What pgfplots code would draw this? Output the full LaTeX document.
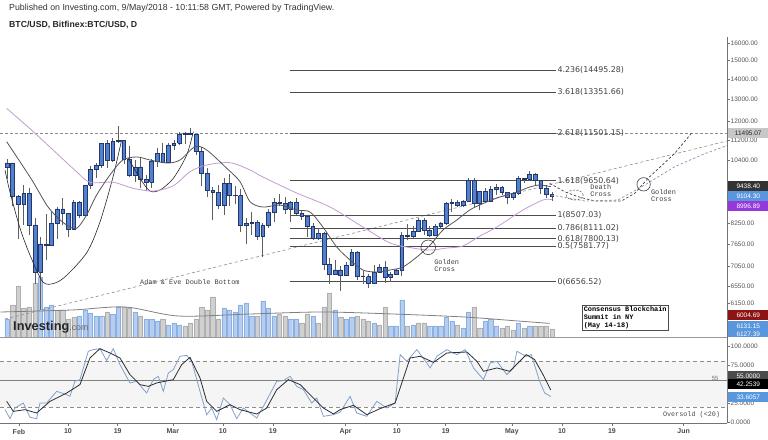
\documentclass[border=0pt]{standalone}
\usepackage{pgfplots}
\pgfplotsset{compat=1.18}
\usepackage{pgfplotstable}
\usepackage{fontspec}
\setmainfont{Liberation Sans}
\setsansfont{Liberation Sans}
\setmonofont{Liberation Mono}
\newfontfamily\dejavu{DejaVu Sans}
\newcommand\fs[1]{\fontsize{#1}{#1}\selectfont}
\definecolor{candlefill}{RGB}{80,128,206}
\definecolor{candleedge}{RGB}{35,55,110}
\definecolor{wickc}{RGB}{95,95,95}
\definecolor{volup}{RGB}{180,205,240}
\definecolor{volupe}{RGB}{140,175,225}
\definecolor{voldn}{RGB}{208,208,208}
\definecolor{voldne}{RGB}{175,175,175}
\definecolor{mafast}{RGB}{85,85,85}
\definecolor{maslow}{RGB}{195,155,210}
\definecolor{stk}{RGB}{130,160,205}
\definecolor{std}{RGB}{45,45,45}
\definecolor{labg}{RGB}{85,85,85}
\definecolor{boxblue}{RGB}{88,150,222}
\definecolor{boxpurple}{RGB}{150,55,220}
\definecolor{boxred}{RGB}{140,20,20}

\pgfplotstableread{
d O H L C
-1 10150 10450 9700 10300
0 10300 10300 8800 9100
1 9100 9150 7800 8850
2 8850 9500 8200 9200
3 9200 9400 7900 8200
4 8200 8400 6600 6900
5 6900 7850 6000 7650
6 7650 8550 7200 7600
7 7600 8600 7600 8250
8 8250 8750 7800 8700
9 8700 9050 8200 8560
10 8560 8560 7850 8080
11 8080 8980 8080 8900
12 8900 8950 8400 8500
13 8500 9500 8500 9480
14 9480 10200 9350 10050
15 10050 10300 9750 10200
16 10200 11100 10100 11080
17 11080 11200 10100 10400
18 10400 11270 10350 11150
19 11150 11790 11100 11200
20 11200 11200 10250 10450
21 10450 10950 9780 9850
22 9850 10400 9600 10150
23 10150 10500 9400 9680
24 9680 9850 9300 9600
25 9600 10450 9400 10350
26 10350 10880 10150 10650
27 10650 11080 10300 10330
28 10330 11080 10300 11000
29 11000 11200 10800 11080
30 11080 11550 11000 11450
31 11450 11520 11050 11500
32 11500 11700 11400 11450
33 11450 11450 10600 10750
34 10750 10900 9450 9900
35 9900 10100 9100 9300
36 9300 9430 8350 9250
37 9250 9500 8700 8800
38 8800 9750 8500 9550
39 9550 9900 8800 9150
40 9150 9450 8850 9130
41 9130 9350 8000 8200
42 8200 8400 7650 8250
43 8250 8600 7900 8280
44 8280 8350 7750 7870
45 7870 8250 7300 8200
46 8200 8700 8100 8600
47 8600 9050 8300 8900
48 8900 9180 8780 8880
49 8880 9100 8550 8700
50 8700 8950 8300 8900
51 8900 9050 8500 8550
52 8550 8650 8350 8470
53 8470 8500 7850 8150
54 8150 8250 7750 7800
55 7800 8100 7750 7950
56 7950 7980 6950 7100
57 7100 7250 6600 6850
58 6850 7200 6850 6950
59 6950 7050 6430 6820
60 6820 7150 6820 7080
61 7080 7520 7050 7420
62 7420 7440 6700 6800
63 6800 6920 6600 6780
64 6780 6860 6500 6620
65 6620 7080 6600 6900
66 6900 7100 6900 7020
67 7020 7180 6630 6770
68 6770 6890 6650 6840
69 6840 6980 6820 6950
70 6950 8000 6800 7900
71 7900 8230 7750 7880
72 7880 8180 7830 8000
73 8000 8400 8000 8350
74 8350 8420 7900 8050
75 8050 8180 7850 7900
76 7900 8230 7880 8160
77 8160 8300 8100 8260
78 8260 8930 8200 8880
79 8880 9030 8600 8920
80 8920 9000 8760 8800
81 8800 9000 8750 8950
82 8950 9750 8920 9650
83 9650 9750 8750 8870
84 8870 9300 8650 9280
85 9280 9380 8950 8930
86 8930 9450 8930 9350
87 9350 9520 9150 9420
88 9420 9460 9150 9240
89 9240 9250 8850 9070
90 9070 9250 9000 9220
91 9220 9800 9170 9740
92 9740 9750 9550 9700
93 9700 9980 9700 9860
94 9860 9940 9460 9650
95 9650 9680 9200 9370
96 9370 9480 9050 9180
97 9180 9250 8970 9104
}\ohlc

\pgfplotstableread{
d Vu Vd
-1 18 nan
0 nan 32
1 nan 51
2 nan 29
3 nan 30
4 nan 54
5 60 nan
6 30 nan
7 32 nan
8 nan 27
9 nan 27
10 nan 18
11 nan 20
12 21 nan
13 27 nan
14 24 nan
15 21 nan
16 21 nan
17 nan 25
18 23 nan
19 30 nan
20 nan 30
21 nan 29
22 25 nan
23 nan 21
24 18 nan
25 18 nan
26 16 nan
27 nan 18
28 12 nan
29 14 nan
30 12 nan
31 nan 11
32 nan 14
33 nan 18
34 nan 30
35 nan 27
36 nan 40
37 nan 18
38 29 nan
39 27 nan
40 25 nan
41 32 nan
42 34 nan
43 21 nan
44 nan 21
45 36 nan
46 29 nan
47 21 nan
48 nan 23
49 nan 21
50 18 nan
51 18 nan
52 nan 14
53 nan 23
54 21 nan
55 nan 14
56 nan 30
57 nan 44
58 27 nan
59 nan 20
60 18 nan
61 20 nan
62 nan 21
63 nan 18
64 nan 16
65 14 nan
66 nan 12
67 nan 30
68 11 nan
69 11 nan
70 37 nan
71 nan 11
72 12 nan
73 nan 14
74 nan 14
75 11 nan
76 11 nan
77 11 nan
78 20 nan
79 16 nan
80 nan 12
81 9 nan
82 25 nan
83 nan 30
84 nan 9
85 16 nan
86 18 nan
87 11 nan
88 nan 9
89 nan 11
90 nan 7
91 14 nan
92 nan 9
93 11 nan
94 nan 11
95 nan 11
96 nan 11
97 nan 8
}\vol

\begin{document}
\begin{tikzpicture}
\path[use as bounding box] (0pt,0pt) rectangle (768pt,439pt);

% titles
\node[anchor=west, font=\fs{8.8}, text=black!80, inner sep=0pt] at (9pt,431pt) {Published on Investing.com, 9/May/2018 - 10:11:58 GMT, Powered by TradingView.};
\node[anchor=west, font=\fs{8.7}\bfseries, text=black!85, inner sep=0pt] at (9pt,414pt) {BTC/USD, Bitfinex:BTC/USD, D};

% volume
\begin{axis}[
  at={(0pt,102pt)}, anchor=south west, scale only axis,
  width=727pt, height=60pt,
  xmin=-2.28, xmax=128.5, ymin=0, ymax=60,
  hide axis,
]
\addplot[ybar, bar width=4.2pt, bar shift=0pt, fill=volup, draw=volupe, line width=0.4pt] table[x=d, y=Vu] {\vol};
\addplot[ybar, bar width=4.2pt, bar shift=0pt, fill=voldn, draw=voldne, line width=0.4pt] table[x=d, y=Vd] {\vol};
\addplot[black!50, line width=0.8pt, smooth] coordinates {(-2.2,25) (10.6,27) (20.2,30) (29.8,21) (42.7,23) (55.5,25) (68.4,23) (81.2,20) (90.9,16) (96.6,13.6)};
\end{axis}

\node[anchor=base west, inner sep=0pt] at (13pt,108pt) {\fs{12.8}\bfseries\color{black!85}Investing\fs{8.8}\mdseries\color{black!60}.com};

% price panel (log price scale: y filter ln, limits in ln units)
\pgfplotsset{priceax/.style={
  at={(0pt,102pt)}, anchor=south west, scale only axis,
  width=727pt, height=300.4pt,
  xmin=-2.28, xmax=128.5,
  ymin=8.60021, ymax=9.70380,
  y filter/.expression={ln(y)},
  clip=false}}
\begin{axis}[priceax,
  axis x line*=bottom, axis y line*=right,
  x axis line style={draw=black!40, line width=0.6pt},
  y axis line style={draw=black!55, line width=0.6pt},
  xtick=\empty,
  ytick={8.72420,8.78722,8.86079,8.94246,9.01797,9.16952,9.24956,9.32366,9.39266,9.47270,9.54681,9.61581,9.68034},
  yticklabels={6150.00,6550.00,7050.00,7650.00,8250.00,{},10400.00,11200.00,12000.00,13000.00,14000.00,15000.00,16000.00},
  yticklabel style={font=\fs{6.5}, text=labg, inner sep=1pt},
  tick align=outside, major tick length=2.5pt,
  tick style={draw=black!55, line width=0.5pt},
]
\addplot[black!45, line width=0.6pt, dash pattern=on 3pt off 2pt] coordinates {(-2.28,11495.07) (128.5,11495.07)};
\addplot[black!45, line width=0.6pt, dash pattern=on 3pt off 2.5pt] coordinates {(-1.385,5804) (128.5,11162)};
\addplot[black!70, line width=0.7pt] coordinates {(49.9,14495.28) (97.8,14495.28)};
\addplot[black!70, line width=0.7pt] coordinates {(49.9,13351.66) (97.8,13351.66)};
\addplot[black!70, line width=0.7pt] coordinates {(49.9,11501.15) (97.8,11501.15)};
\addplot[black!70, line width=0.7pt] coordinates {(49.9,9650.64) (97.8,9650.64)};
\addplot[black!70, line width=0.7pt] coordinates {(49.9,8507.03) (97.8,8507.03)};
\addplot[black!70, line width=0.7pt] coordinates {(49.9,8111.02) (97.8,8111.02)};
\addplot[black!70, line width=0.7pt] coordinates {(49.9,7800.13) (97.8,7800.13)};
\addplot[black!70, line width=0.7pt] coordinates {(49.9,7581.77) (97.8,7581.77)};
\addplot[black!70, line width=0.7pt] coordinates {(49.9,6656.52) (97.8,6656.52)};
\end{axis}

% candles
\begin{axis}[priceax, hide axis]
\pgfplotstablegetrowsof{\ohlc}
\pgfmathtruncatemacro\lastrow{\pgfplotsretval-1}
\pgfplotsforeachungrouped \k in {0,...,\lastrow}{%
  \pgfplotstablegetelem{\k}{d}\of\ohlc \let\cD\pgfplotsretval
  \pgfplotstablegetelem{\k}{O}\of\ohlc \let\cO\pgfplotsretval
  \pgfplotstablegetelem{\k}{H}\of\ohlc \let\cH\pgfplotsretval
  \pgfplotstablegetelem{\k}{L}\of\ohlc \let\cL\pgfplotsretval
  \pgfplotstablegetelem{\k}{C}\of\ohlc \let\cC\pgfplotsretval
  \pgfmathsetmacro\cA{\cD-0.34}
  \pgfmathsetmacro\cB{\cD+0.34}
  \edef\doplot{%
    \noexpand\addplot[wickc, line width=0.7pt] coordinates {(\cD,\cL) (\cD,\cH)};
    \noexpand\addplot[draw=candleedge, fill=candlefill, line width=0.6pt] coordinates {(\cA,\cO) (\cB,\cO) (\cB,\cC) (\cA,\cC) (\cA,\cO)};
  }\doplot
}
\end{axis}

% curves
\begin{axis}[priceax, hide axis]
\addplot[black!85, line width=0.6pt, smooth] coordinates {(-1.38,10034) (-0.49,9255) (1.31,8108) (3.11,7343) (5.45,6649) (7.61,6625) (9.77,6822) (13.4,7424) (15.7,8289) (18.0,9743) (19.6,11203)};
\addplot[black!85, line width=0.6pt, smooth] coordinates {(20.8,10474) (22.9,9733) (24.7,9289) (26.5,9323) (28.9,9733) (31.3,10602) (32.5,11550)};
\addplot[maslow, line width=0.8pt, smooth] coordinates {(-1.08,12586) (3.71,11550) (7.91,10669) (11.5,9971) (13.9,9591) (18.1,9591) (21.7,9381) (25.3,9289) (28.9,9471) (31.9,9971) (34.9,10220) (39.1,10307) (42.7,10034) (45,9780) (51.1,9221) (57.1,8758) (63,8138) (67.9,7674) (72,7534) (75.1,7479) (78.1,7534) (81,7590) (84,7870) (87.1,8138) (91.8,8662) (95.4,8987) (97,9000)};
\addplot[mafast, line width=0.8pt, smooth] coordinates {(-1.08,11133) (1.31,10345) (3.65,9612) (6.12,8823) (7.91,8452) (9.71,8198) (11.5,8099) (13.3,8505) (15.1,9153) (17.5,9851) (19.8,10409) (22.4,10525) (24.7,10409) (27.8,10295) (30.1,10409) (32.8,10930) (34.9,10799) (38.5,10100) (40.9,9612) (42.7,8931) (45,8758) (48.1,8823) (51.1,8662) (53.5,8599) (55.8,8138) (58.3,7562) (60.7,7209) (63,6949) (65.5,6898) (67.9,6949) (70.2,7026) (72.7,7289) (75.1,7617) (77.4,8049) (79.9,8350) (82.2,8662) (84,8823) (87.1,9053) (90.7,9255) (93,9426) (94.8,9496) (96.8,9438)};
\addplot[black!75, line width=0.7pt, dash pattern=on 2.5pt off 2pt] coordinates {(96.6,9555) (99.3,9265) (101.7,9096) (104.7,8954) (109.5,8954) (111.9,9211) (114.3,9733) (119.1,10669) (122.1,11482)};
\addplot[maslow!85!black, line width=0.7pt, dash pattern=on 2.5pt off 2pt] coordinates {(96.9,9153) (102.9,8954) (108.9,8987) (113.7,9496) (119.1,10156) (123.9,10602) (128.5,10980)};
\end{axis}

% circle marks
\begin{axis}[priceax, hide axis]
\addplot[only marks, mark=o, mark size=7.3pt, black!75, mark options={line width=0.6pt}] coordinates {(74.75,7554)};
\addplot[only marks, mark=o, mark size=6.7pt, black!75, mark options={line width=0.6pt}] coordinates {(113.5,9520)};
\addplot[only marks, mark=o, mark size=5pt, black!60, mark options={line width=0.6pt, xscale=1.7, dash pattern=on 2pt off 1.5pt}] coordinates {(101.1,9153)};
\end{axis}

% text nodes (y positions given as ln of price)
\begin{axis}[priceax, hide axis]
\tikzset{fibl/.style={anchor=west, font=\dejavu\fs{7.9}, text=black!75, inner sep=0.5pt}}
\node[fibl] at (axis cs:97.9,9.58158) {4.236(14495.28)};
\node[fibl] at (axis cs:97.9,9.49940) {3.618(13351.66)};
\node[fibl] at (axis cs:97.9,9.35019) {2.618(11501.15)};
\node[fibl] at (axis cs:97.9,9.17478) {1.618(9650.64)};
\node[fibl] at (axis cs:97.9,9.04864) {1(8507.03)};
\node[fibl] at (axis cs:97.9,9.00098) {0.786(8111.02)};
\node[fibl] at (axis cs:97.9,8.96189) {0.618(7800.13)};
\node[fibl] at (axis cs:97.9,8.93350) {0.5(7581.77)};
\node[fibl] at (axis cs:97.9,8.80336) {0(6656.52)};
\node[anchor=west, font=\fs{6.9}\ttfamily, text=black!75, inner sep=0pt] at (axis cs:22.9,8.80089) {Adam \& Eve Double Bottom};
\node[anchor=north west, align=left, font=\fontsize{6.9}{6.8}\selectfont\ttfamily, text=black!75, inner sep=0pt] at (axis cs:75.8,8.8864) {Golden\\Cross};
\node[anchor=north west, align=left, font=\fontsize{6.9}{6.8}\selectfont\ttfamily, text=black!75, inner sep=0pt] at (axis cs:103.9,9.1600) {Death\\Cross};
\node[anchor=north west, align=left, font=\fontsize{6.9}{6.8}\selectfont\ttfamily, text=black!75, inner sep=0pt] at (axis cs:114.8,9.1414) {Golden\\Cross};
\end{axis}

% consensus box
\node[anchor=north west, draw=black!70, fill=white, line width=0.6pt, align=left, font=\fontsize{6.9}{8}\selectfont\ttfamily\bfseries, inner sep=1.5pt] at (582pt,134pt) {Consensus Blockchain\\Summit in NY\\(May 14-18)};

% stochastic
\begin{axis}[
  at={(0pt,16pt)}, anchor=south west, scale only axis,
  width=727pt, height=86pt,
  xmin=-2.28, xmax=128.5, ymin=-1.3, ymax=112.3,
  axis x line*=bottom, axis y line*=right,
  axis line style={draw=black!55, line width=0.6pt},
  xtick={1.13,9.95,18.9,28.8,37.8,46.8,59.9,69.1,77.9,89.8,98.8,107.8,120.7},
  xticklabels={Feb,10,19,Mar,10,19,Apr,10,19,May,10,19,Jun},
  xticklabel style={font=\fs{7}\bfseries, text=black!70},
  ytick={0,25,75,100}, yticklabels={0.0000,25.0000,75.0000,100.0000},
  yticklabel style={font=\fs{6.5}, text=labg, inner sep=1pt},
  tick align=outside, major tick length=2.5pt,
  tick style={draw=black!55, line width=0.5pt},
  clip=false,
]
\addplot[fill=black!4, draw=none] coordinates {(-2.28,20) (128.5,20) (128.5,80) (-2.28,80) (-2.28,20)};
\addplot[black!45, line width=0.6pt, dash pattern=on 4pt off 3pt] coordinates {(-2.28,80) (128.5,80)};
\addplot[black!45, line width=0.6pt, dash pattern=on 4pt off 3pt] coordinates {(-2.28,20) (128.5,20)};
\addplot[black!50, line width=0.6pt] coordinates {(-2.28,55) (128.5,55)};
\addplot[stk, line width=0.8pt] coordinates {(-1.38,16.3) (-0.48,4.4) (0.41,18.5) (1.91,25.1) (3.11,6.2) (4.31,4.4) (4.91,25.1) (6.11,25.1) (7.91,40.5) (9.71,36.1) (10.3,33.9) (11.2,53.8) (12.1,56.0) (13.6,93.4) (14.5,95.6) (15.7,96.9) (16.9,81.1) (18.1,96.9) (19.3,75.8) (21.1,51.6) (22.3,53.8) (24.1,38.3) (25.3,56.0) (26.2,60.4) (27.1,40.5) (28.0,64.8) (28.9,69.2) (30.1,86.8) (31.3,88.1) (32.2,80.2) (33.7,40.5) (34.9,9.7) (35.8,18.5) (36.7,3.1) (37.9,31.7) (39.1,22.9) (40.3,4.4) (41.5,18.5) (43.9,5.3) (45.1,20.7) (47.5,53.8) (48.7,54.6) (49.9,60.4) (51.1,47.1) (52.3,42.7) (53.8,25.1) (54.7,31.7) (55.9,7.5) (57.7,9.7) (58.9,13) (60.7,33.9) (61.9,11.9) (63.7,7.5) (65.5,27.3) (67.3,18.5) (68.8,25.1) (69.7,89.0) (70.9,80.2) (72.7,95.6) (74.5,78.0) (75.1,71.4) (76.3,86.8) (78.1,95.6) (79.9,89.0) (81.4,95.6) (82.9,71.4) (84.7,56.0) (85.9,78.0) (87.1,80.2) (88.9,62.6) (90.1,71.4) (90.7,93.4) (92.4,86.8) (93.3,89.0) (94.8,53.8) (95.7,38.3) (96.8,33.6)};
\addplot[std, line width=0.8pt] coordinates {(-1.08,27.3) (0.11,14.1) (2.21,16.3) (4.31,11.9) (6.71,27.3) (9.71,38.3) (12.1,49.4) (13.9,84.6) (15.7,96.9) (17.5,91.2) (19.3,84.6) (21.1,62.6) (22.9,49.4) (24.4,47.1) (25.9,51.6) (28.9,56.0) (30.4,75.8) (31.9,85.4) (33.7,58.2) (34.9,27.3) (36.7,14.1) (39.1,22.9) (40.9,16.3) (43.9,10.6) (45.7,18.5) (47.5,42.7) (49.6,56.0) (51.7,49.4) (54.1,31.7) (55.9,18.5) (57.7,10.6) (58.9,16.3) (61.3,22.1) (63.7,9.7) (66.1,17.7) (68.8,25.1) (71.5,84.6) (73.3,86.8) (75.7,78.8) (78.1,91.2) (81.7,92.5) (83.5,80.2) (84.7,67.0) (87.1,71.4) (89.4,67.0) (92.4,89.0) (93.9,82.4) (95.4,62.6) (96.8,42.3)};
\node[anchor=east, font=\fs{6}, text=black!55, inner sep=0pt] at (axis cs:127,57) {55};
\node[anchor=east, font=\fs{6.8}\ttfamily, text=black!70, inner sep=0pt] at (axis cs:127.3,10) {Oversold (<20)};
\end{axis}

% right value labels
\tikzset{rl/.style={anchor=west, font=\fs{6.5}, inner sep=0pt, minimum width=40pt, minimum height=9.5pt, text=white}}
\node[rl, fill=black!22, text=black!85] at (727.5pt,306pt) {\,11495.07};
\node[rl, fill=black!80] at (727.5pt,253pt) {\,9438.40};
\node[rl, fill=boxblue] at (727.5pt,243pt) {\,9104.30};
\node[rl, fill=boxpurple] at (727.5pt,233pt) {\,8996.89};
\node[rl, fill=boxred] at (727.5pt,124pt) {\,6004.69};
\node[rl, fill=boxblue] at (727.5pt,113pt) {\,6131.15};
\node[rl, fill=boxblue, minimum height=6pt] at (727.5pt,105pt) {\,6127.39};
\node[rl, fill=black!70] at (727.5pt,63pt) {\,55.0000};
\node[rl, fill=black] at (727.5pt,55pt) {\,42.2539};
\node[rl, fill=boxblue] at (727.5pt,42pt) {\,33.6057};
\end{tikzpicture}
\end{document}
